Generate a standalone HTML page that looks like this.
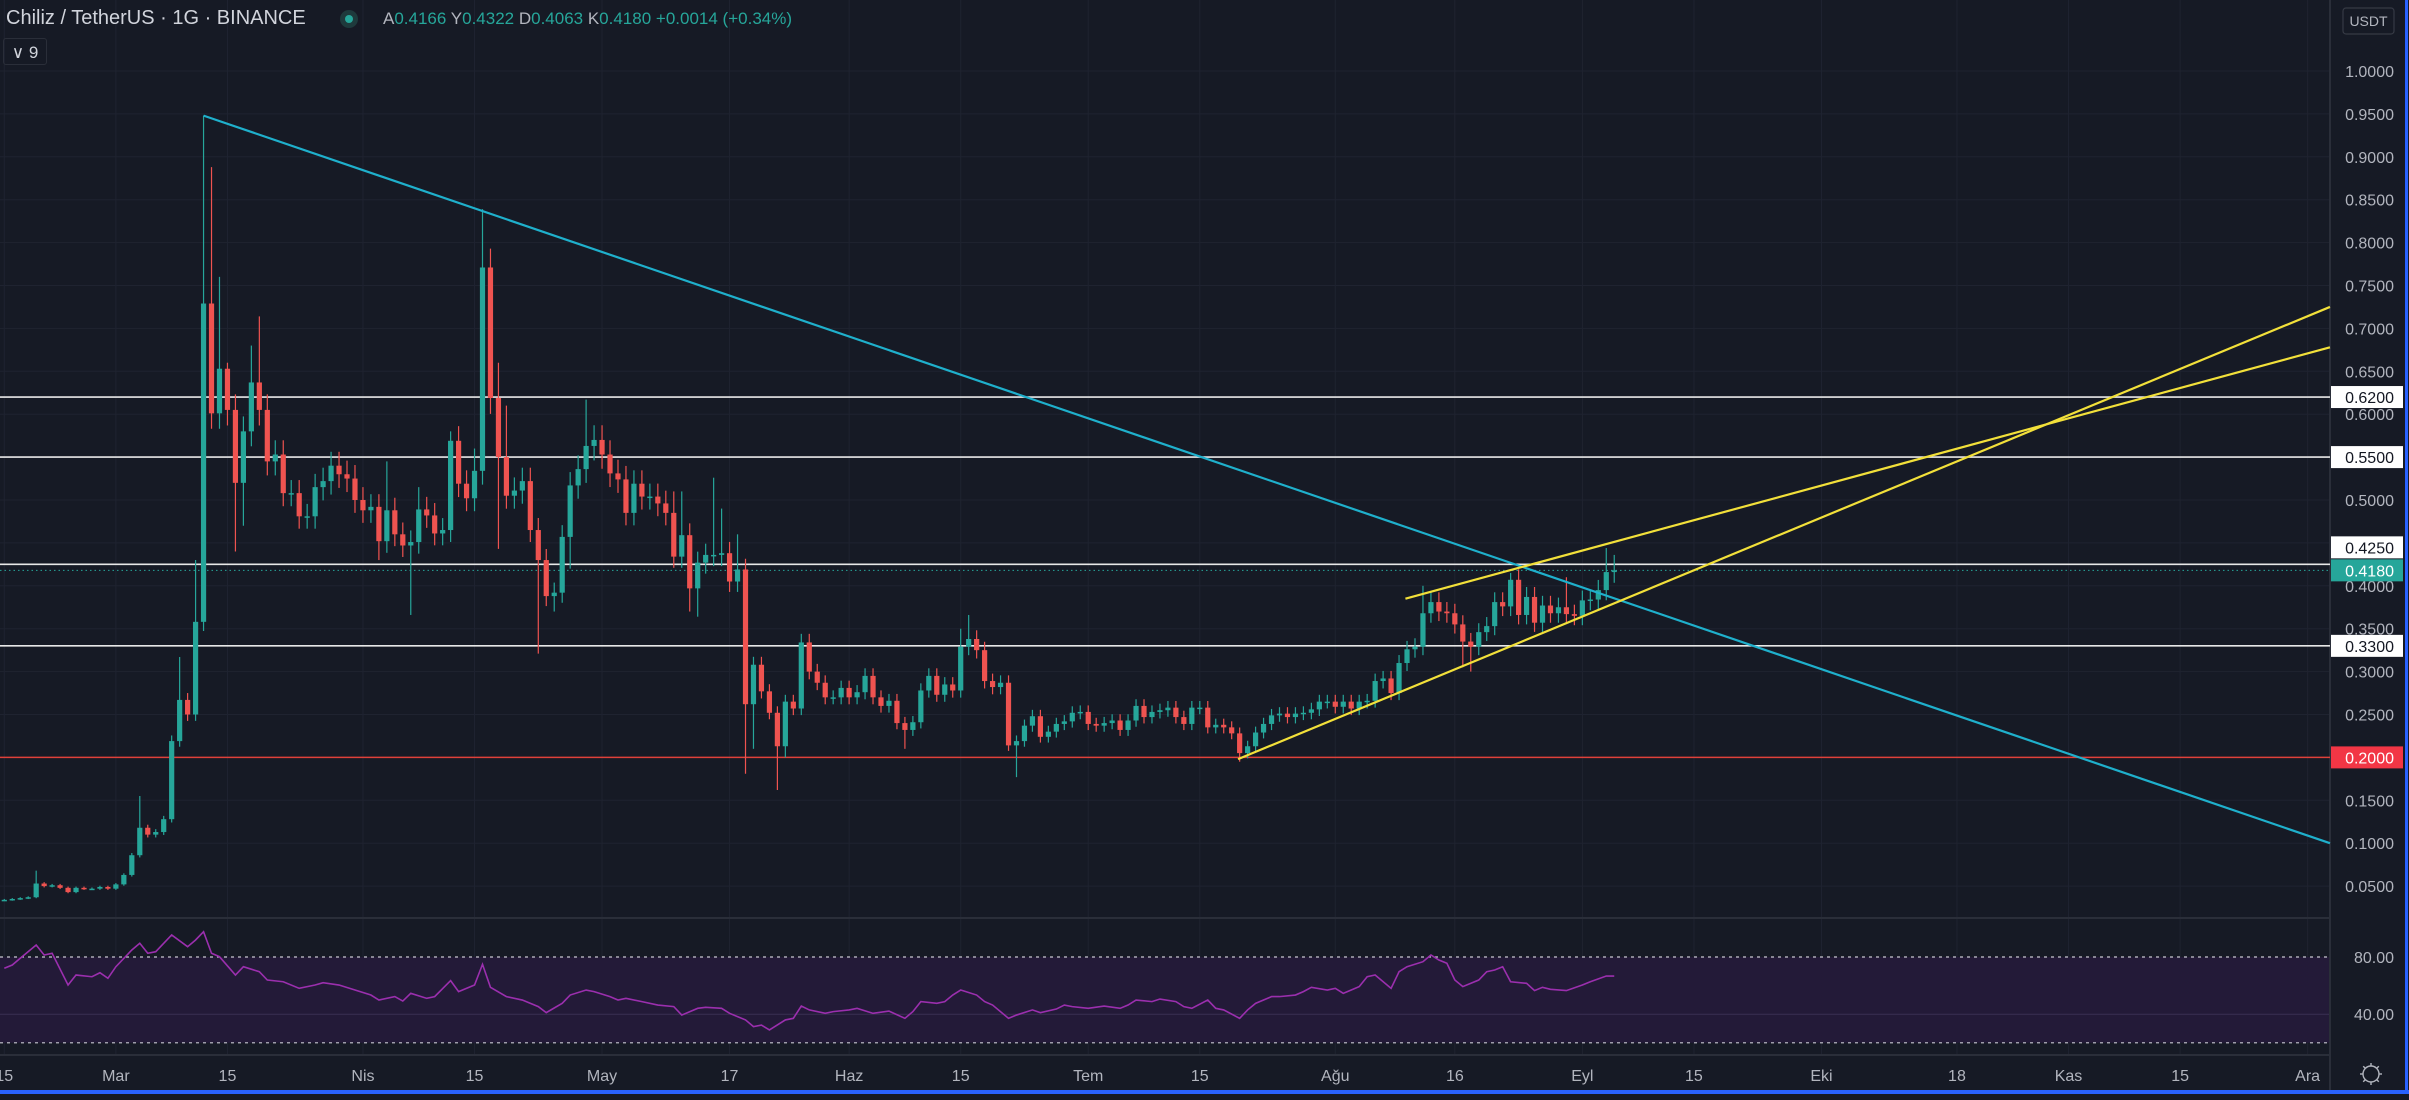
<!DOCTYPE html>
<html><head><meta charset="utf-8"><style>
html,body{margin:0;padding:0;background:#161a25;}
body{width:2409px;height:1100px;overflow:hidden;position:relative;font-family:"Liberation Sans",sans-serif;}
svg{position:absolute;left:0;top:0;}
</style></head><body>
<svg id="chart" width="2409" height="1100" viewBox="0 0 2409 1100"></svg>
<script>
const closes=[0.034,0.035,0.036,0.037,0.053,0.050,0.051,0.048,0.043,0.048,0.047,0.047,0.049,0.047,0.052,
0.063,0.086,0.118,0.110,0.113,0.128,0.219,0.267,0.250,0.358,
0.729,0.601,0.653,0.605,0.520,0.580,0.637,0.605,0.545,0.553,
0.508,0.508,0.481,0.481,0.515,0.522,0.540,0.530,0.525,0.500,
0.488,0.492,0.452,0.488,0.460,0.447,0.451,0.489,0.482,0.461,
0.465,0.569,0.519,0.502,0.534,0.771,0.619,0.550,0.505,0.511,
0.522,0.465,0.430,0.388,0.392,0.457,0.517,0.536,0.563,0.570,
0.553,0.531,0.524,0.485,0.519,0.504,0.504,0.496,0.485,0.434,
0.459,0.397,0.427,0.436,0.436,0.438,0.405,0.419,0.262,0.308,
0.277,0.252,0.213,0.265,0.257,0.334,0.300,0.287,0.270,0.270,
0.281,0.270,0.276,0.295,0.270,0.260,0.266,0.240,0.232,0.241,
0.278,0.295,0.273,0.285,0.278,0.329,0.338,0.325,0.289,0.282,
0.287,0.214,0.219,0.237,0.248,0.224,0.230,0.239,0.242,0.252,
0.253,0.239,0.237,0.240,0.243,0.232,0.243,0.260,0.247,0.253,
0.255,0.258,0.247,0.239,0.258,0.258,0.235,0.238,0.235,0.228,
0.205,0.213,0.229,0.239,0.249,0.251,0.247,0.251,0.252,0.256,
0.265,0.265,0.259,0.265,0.257,0.265,0.266,0.289,0.292,0.275,
0.310,0.326,0.329,0.368,0.381,0.370,0.368,0.355,0.335,0.329,
0.346,0.353,0.381,0.376,0.407,0.366,0.387,0.357,0.377,0.368,
0.375,0.367,0.365,0.383,0.384,0.395,0.416,0.418];
const highIdx=[4,17,22,24,25,26,27,28,31,32,48,52,56,59,60,61,62,63,73,84,85,89,90,92,120,121,178,189,196,201,202];
const highVal=[0.068,0.155,0.317,0.43,0.948,0.888,0.76,0.66,0.68,0.714,0.545,0.515,0.58,0.56,0.839,0.793,0.66,0.61,0.617,0.51,0.51,0.526,0.49,0.46,0.35,0.366,0.40,0.415,0.41,0.444,0.436];
const lowIdx=[29,30,47,51,62,67,69,71,86,87,93,94,97,98,113,127,155,183,184];
const lowVal=[0.44,0.47,0.43,0.366,0.443,0.321,0.37,0.42,0.37,0.364,0.181,0.21,0.162,0.2,0.21,0.177,0.195,0.305,0.30];
const priceTicks=[1,0.95,0.9,0.85,0.8,0.75,0.7,0.65,0.6,0.55,0.5,0.45,0.4,0.35,0.3,0.25,0.2,0.15,0.1,0.05];
const timeLabels=["15","Mar","15","Nis","15","May","17","Haz","15","Tem","15","Ağu","16","Eyl","15","Eki","18","Kas","15","Ara"];
const timeIdx=[0,14,28,45,59,75,91,106,120,136,150,167,182,198,212,228,245,259,273,289];
const levelVals=[0.62,0.55,0.425,0.33];
const supportVal=0.2;
const lastPrice=0.418;
const trendCyan=[[25,0.948],[291.8,0.100]];
const trendLow=[[154.8,0.198],[291.8,0.725]];
const trendUp=[[175.8,0.385],[291.8,0.678]];
const rsiIdx=[0,1,2,4,5,6,8,9,11,12,13,14,16,17,18,19,20,21,23,24,25,26,27,29,30,32,33,35,37,39,40,42,44,46,47,49,50,51,53,54,56,57,59,60,61,63,65,67,68,70,71,73,74,76,77,78,80,82,84,85,87,88,90,91,93,94,95,96,98,99,100,101,103,104,106,107,109,111,113,114,115,117,118,119,120,122,123,124,126,127,129,130,132,133,134,136,138,140,141,142,144,145,147,148,149,151,152,153,155,156,157,159,160,162,163,164,166,167,168,169,170,171,172,174,175,176,178,179,180,181,182,183,185,186,187,188,189,191,192,193,194,196,198,199,201,202];
const rsiVals=[72.1,74.4,79.1,88.4,81.4,82.6,60.4,67.4,66.2,69.0,65.1,73.2,84.9,89.6,82.6,83.7,89.6,95.4,87.2,91.9,97.7,82.6,80.2,67.4,73.2,69.7,63.9,62.7,58.1,60.4,62.0,60.4,56.9,53.4,49.9,52.3,49.2,54.6,51.1,52.3,63.5,55.8,60.4,74.9,58.8,52.3,49.9,45.3,41.1,47.6,53.4,56.9,55.8,52.3,49.9,51.1,48.8,46.4,45.3,39.4,44.1,44.8,44.1,40.6,36.0,31.3,32.4,29.0,36.0,37.1,45.7,43.0,40.6,41.8,43.0,44.1,40.6,42.2,37.1,41.8,48.8,47.6,48.8,53.4,56.9,53.4,48.8,46.4,37.1,39.4,43.0,41.1,43.6,46.4,45.3,44.1,45.7,44.1,46.4,49.9,48.8,50.6,48.8,45.3,44.1,49.9,44.1,43.0,37.1,43.0,47.6,52.3,52.3,53.4,55.8,58.8,56.9,58.1,54.6,56.9,59.3,66.2,67.4,58.1,69.7,73.2,76.7,81.4,77.9,75.6,63.9,59.3,63.9,69.7,70.9,73.2,62.7,61.6,56.5,58.8,57.4,56.5,60.4,62.7,66.7,66.7];

const NS="http://www.w3.org/2000/svg";
const svg=document.getElementById('chart');
const PLOT_R=2330, MAIN_B=918;
function xOf(i){return 4.3+i*7.97;}
function yOf(p){return 71+(1-p)*858;}
function yR(r){return 957+(80-r)*1.43;}
function mk(tag,attrs,parent){const e=document.createElementNS(NS,tag);for(const k in attrs)e.setAttribute(k,attrs[k]);(parent||svg).appendChild(e);return e;}
function clipLine(a,b){const x1=xOf(a[0]),y1=yOf(a[1]),x2=xOf(b[0]),y2=yOf(b[1]);return [x1,y1,x2,y2];}

const grid=mk('g',{});


priceTicks.forEach(p=>{mk('line',{x1:0,x2:PLOT_R,y1:yOf(p),y2:yOf(p),stroke:'#1f2330','stroke-width':1},grid);});
timeIdx.forEach(i=>{mk('line',{x1:xOf(i),x2:xOf(i),y1:0,y2:1055,stroke:'#1f2330','stroke-width':1},grid);});

const rsiG=mk('g',{});


mk('rect',{x:0,y:yR(80),width:PLOT_R,height:yR(20)-yR(80),fill:'#231a38'},rsiG);
mk('line',{x1:0,x2:PLOT_R,y1:yR(80),y2:yR(80),stroke:'#c8c8d0','stroke-width':1.2,'stroke-dasharray':'3 4'},rsiG);
mk('line',{x1:0,x2:PLOT_R,y1:yR(20),y2:yR(20),stroke:'#c8c8d0','stroke-width':1.2,'stroke-dasharray':'3 4'},rsiG);
mk('line',{x1:0,x2:PLOT_R,y1:yR(40),y2:yR(40),stroke:'#3a2f52','stroke-width':1},rsiG);
const rsiLine=mk('polyline',{points:rsiIdx.map((i,k)=>xOf(i)+','+yR(rsiVals[k])).join(' '),fill:'none',stroke:'#9b2fae','stroke-width':1.6},rsiG);



mk('line',{x1:0,x2:PLOT_R,y1:MAIN_B,y2:MAIN_B,stroke:'#2a2e39','stroke-width':2});
mk('line',{x1:0,x2:2409,y1:1055,y2:1055,stroke:'#2a2e39','stroke-width':2});
mk('line',{x1:PLOT_R,x2:PLOT_R,y1:0,y2:1092,stroke:'#2a2e39','stroke-width':2});

levelVals.forEach(v=>{
  const l=mk('line',{x1:0,x2:PLOT_R,y1:yOf(v),y2:yOf(v),stroke:'#e8e8e8','stroke-width':1.6});
  
  
});
const sup=mk('line',{x1:0,x2:PLOT_R,y1:yOf(supportVal),y2:yOf(supportVal),stroke:'#e0413a','stroke-width':1.5});


const lp=mk('line',{x1:0,x2:PLOT_R,y1:yOf(lastPrice),y2:yOf(lastPrice),stroke:'#26a69a','stroke-width':1,'stroke-dasharray':'1.5 3'});



const cg=mk('g',{});


closes.forEach((c,i)=>{
  const o=i===0?c:closes[i-1];
  let h=Math.max(o,c)*1.03, lo=Math.min(o,c)*0.97;
  const hk=highIdx.indexOf(i); if(hk>=0)h=highVal[hk];
  const lk=lowIdx.indexOf(i); if(lk>=0)lo=lowVal[lk];
  const col=c>=o?'#26a69a':'#ef5350';
  const x=xOf(i);
  const g=mk('g',{},cg);
  
  
  mk('line',{x1:x,x2:x,y1:yOf(h),y2:yOf(lo),stroke:col,'stroke-width':1.2},g);
  const t=yOf(Math.max(o,c)), b=yOf(Math.min(o,c));
  mk('rect',{x:x-2.6,y:t,width:5.2,height:Math.max(1.5,b-t),fill:col},g);
});

[[trendCyan,'#1fb0cc','downtrend-line'],[trendLow,'#f2e03a','lower-channel-line'],[trendUp,'#f2e03a','upper-channel-line']].forEach(([t,col,n])=>{
  const [x1,y1,x2,y2]=clipLine(t[0],t[1]);
  const l=mk('line',{x1,y1,x2,y2,stroke:col,'stroke-width':2.2});
  
  
});

mk('rect',{x:PLOT_R+1,y:0,width:2409-PLOT_R-1,height:1092,fill:'#161a25'});
const ax=mk('g',{});


priceTicks.forEach(p=>{
  const t=mk('text',{x:2394,y:yOf(p)+6,'text-anchor':'end',fill:'#b2b5be','font-size':16,'font-family':'Liberation Sans, sans-serif'},ax);
  t.textContent=p.toFixed(4);
  
  
});
function tag(v,bg,fg,name,cy){
  const g=mk('g',{},ax);
  
  
  mk('rect',{x:2331,y:cy-11,width:72,height:22,fill:bg},g);
  const t=mk('text',{x:2394,y:cy+6,'text-anchor':'end',fill:fg,'font-size':16,'font-family':'Liberation Sans, sans-serif'},g);
  t.textContent=v.toFixed(4);
}
// avoid overlap between level label and last price label
levelVals.forEach(v=>{
  let cy=yOf(v);
  const d=cy-yOf(lastPrice);
  if(Math.abs(d)<23) cy=yOf(lastPrice)+(d<=0?-23:23);
  tag(v,'#ffffff','#131722','level-label',cy);
});
tag(lastPrice,'#26a69a','#ffffff','last-price-label',yOf(lastPrice));
tag(supportVal,'#f23645','#ffffff','support-label',yOf(supportVal));
[80,40].forEach(r=>{
  const t=mk('text',{x:2394,y:yR(r)+6,'text-anchor':'end',fill:'#b2b5be','font-size':16,'font-family':'Liberation Sans, sans-serif'},ax);
  t.textContent=r.toFixed(2);
  
  
});
const ub=mk('g',{});


mk('rect',{x:2343,y:8,width:51,height:26,rx:3,fill:'none',stroke:'#363a45','stroke-width':1.2},ub);
const ut=mk('text',{x:2368.5,y:26,'text-anchor':'middle',fill:'#b2b5be','font-size':14,'font-family':'Liberation Sans, sans-serif'},ub);
ut.textContent='USDT';

const ta=mk('g',{});


timeLabels.forEach((s,k)=>{
  const t=mk('text',{x:xOf(timeIdx[k]),y:1081,'text-anchor':'middle',fill:'#b2b5be','font-size':16,'font-family':'Liberation Sans, sans-serif'},ta);
  t.textContent=s;
  
  
});
const gear=mk('g',{});


mk('circle',{cx:2371,cy:1074,r:8,fill:'none',stroke:'#b2b5be','stroke-width':1.4},gear);
for(let a=0;a<8;a++){const an=a*Math.PI/4;mk('line',{x1:2371+Math.cos(an)*8,y1:1074+Math.sin(an)*8,x2:2371+Math.cos(an)*11,y2:1074+Math.sin(an)*11,stroke:'#b2b5be','stroke-width':1.4},gear);}
mk('rect',{x:0,y:1090,width:2409,height:4,fill:'#2962ff'});
mk('rect',{x:2405,y:0,width:3,height:1094,fill:'#2962ff'});
</script>
<div style="position:absolute;left:6px;top:7px;font-size:20px;color:#d1d4dc;white-space:nowrap;">
<span>Chiliz / TetherUS · 1G · BINANCE</span>
</div>
<div style="position:absolute;left:340px;top:10px;width:18px;height:18px;border-radius:50%;background:#1e3a3c;"><div style="position:absolute;left:5px;top:5px;width:8px;height:8px;border-radius:50%;background:#26a69a;"></div></div>
<div style="position:absolute;left:383px;top:9px;font-size:17px;color:#b2b5be;white-space:nowrap;">A<span style="color:#26a69a">0.4166</span> Y<span style="color:#26a69a">0.4322</span> D<span style="color:#26a69a">0.4063</span> K<span style="color:#26a69a">0.4180</span> <span style="color:#26a69a">+0.0014 (+0.34%)</span></div>
<div style="position:absolute;left:3px;top:38px;width:44px;height:27px;border:1px solid #2a2e39;border-radius:3px;color:#d1d4dc;font-size:17px;line-height:27px;text-align:center;box-sizing:border-box;">∨ 9</div>
</body></html>
